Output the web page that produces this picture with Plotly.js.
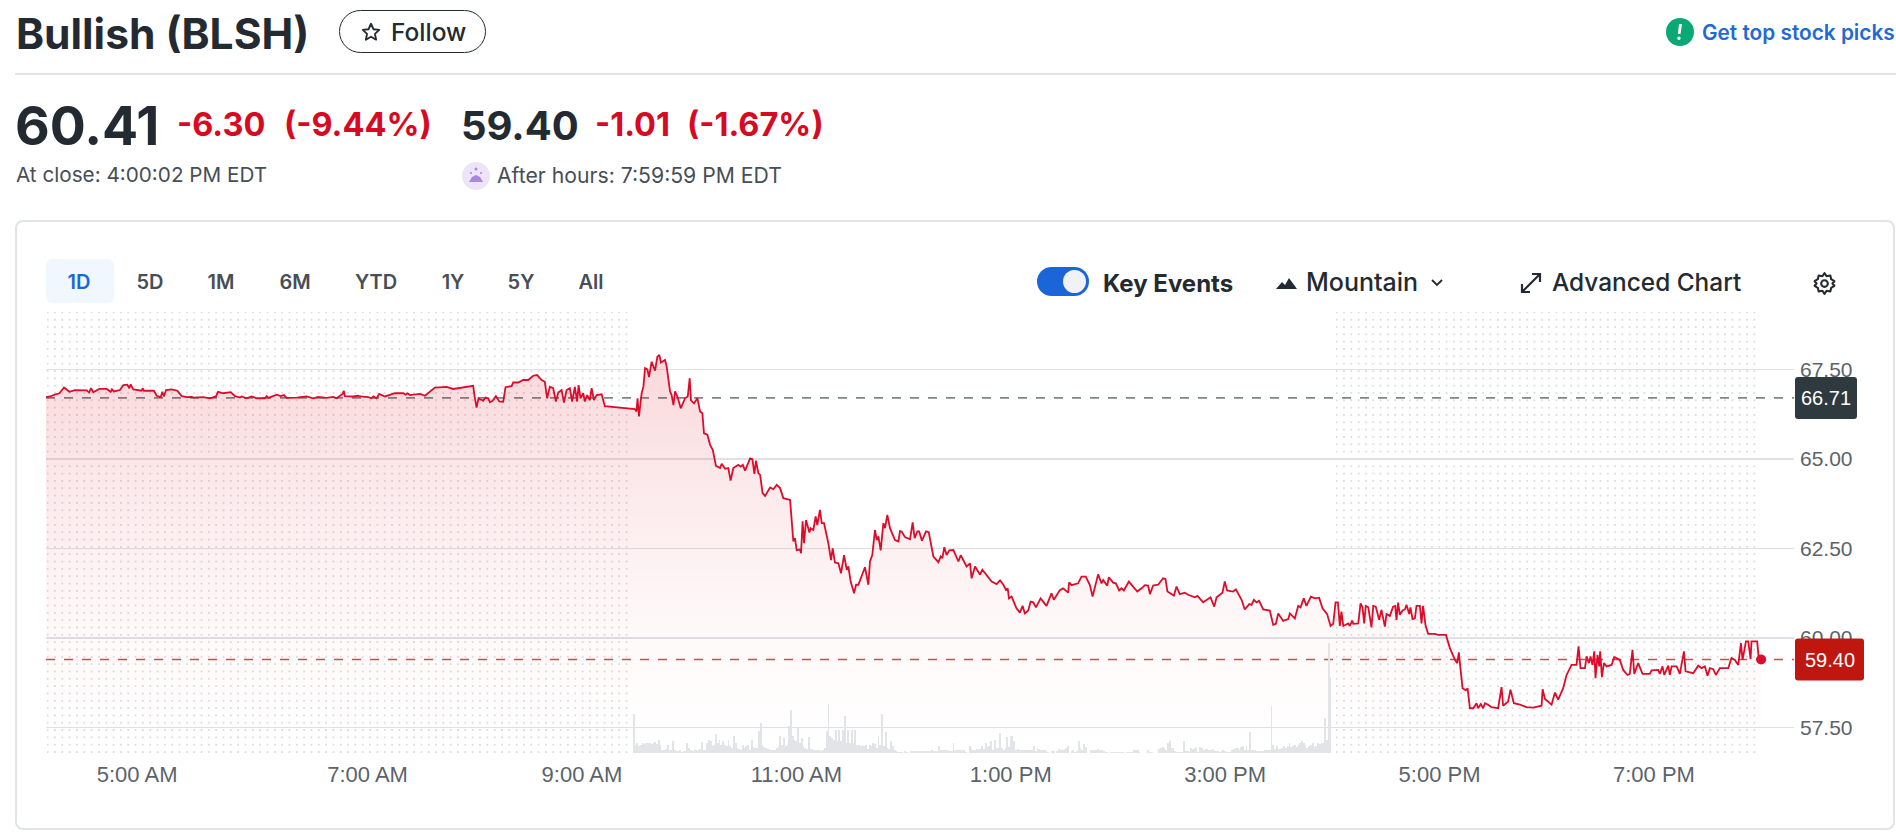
<!DOCTYPE html>
<html><head><meta charset="utf-8">
<script src="https://cdn.plot.ly/plotly-3.0.1.min.js"></script>
<style>
html,body{margin:0;padding:0;background:#fff;width:1896px;height:834px;overflow:hidden;font-family:Inter,"Noto Sans",sans-serif;color:#232a31}
.t{position:absolute;white-space:nowrap;line-height:1}
.dots{position:absolute;top:312px;height:441px;background-image:radial-gradient(circle at center,#dcdee2 0.8px,rgba(255,255,255,0) 1.1px);background-size:7.33px 7.33px;background-position:4.3px -3.3px}
.r{color:#d60a22;font-weight:700;font-size:32.5px}
.b{font-size:20px;font-weight:600;color:#464e56;transform:translateX(-50%)}
svg{position:absolute}
#chart{position:absolute;left:0;top:0;width:1896px;height:834px}
</style></head><body>
<div class="t" style="left:16px;top:13px;font-size:42.5px;font-weight:700">Bullish (BLSH)</div>
<div style="position:absolute;left:339px;top:10px;width:145px;height:41px;border:1.5px solid #232a31;border-radius:22px"></div>
<svg style="left:360px;top:21px" width="22" height="22" viewBox="0 0 24 24"><path d="M12 3l2.7 6 6.3.7-4.7 4.3 1.3 6.4L12 17.2l-5.600 3.200 1.300-6.400L3 9.700 9.300 9z" fill="none" stroke="#232a31" stroke-width="2" stroke-linejoin="round"/></svg>
<div class="t" style="left:391px;top:20px;font-size:24.5px;font-weight:500">Follow</div>
<svg style="left:1666px;top:17px" width="30" height="30"><circle cx="14" cy="15" r="14" fill="#0aa873"/><path d="M16 7l-1.500 10h-2.600L13 7zM13 19.500a1.700 1.700 0 1 1-.1 3.400 1.700 1.700 0 0 1 .1-3.400z" fill="#fff"/></svg>
<div class="t" style="left:1702px;top:23px;font-size:20.8px;font-weight:600;color:#1f6ad6">Get top stock picks</div>
<div style="position:absolute;left:15px;right:0;top:73px;height:2px;background:#e0e3e7"></div>

<div class="t" style="left:15px;top:99px;font-size:53.5px;font-weight:700">60.41</div>
<div class="t r" style="left:177px;top:109px">-6.30</div>
<div class="t r" style="left:284px;top:109px">(-9.44%)</div>
<div class="t" style="left:461px;top:106px;font-size:40px;font-weight:700">59.40</div>
<div class="t r" style="left:595px;top:109px">-1.01</div>
<div class="t r" style="left:687px;top:109px">(-1.67%)</div>
<div class="t" style="left:16px;top:165px;font-size:20.7px;color:#464e56">At close: 4:00:02 PM EDT</div>
<svg style="left:461px;top:161px" width="30" height="30"><circle cx="15" cy="15" r="14" fill="#eee4f9"/><path d="M8 21h14l-3-5-4-2-4 2z" fill="#a887dc"/><circle cx="15" cy="8" r="1.500" fill="#a887dc"/><circle cx="10" cy="12" r="1" fill="#a887dc"/><circle cx="20" cy="12" r="1" fill="#a887dc"/></svg>
<div class="t" style="left:497px;top:165px;font-size:21.2px;color:#464e56">After hours: 7:59:59 PM EDT</div>

<div style="position:absolute;left:15px;top:220px;width:1876px;height:606px;border:2px solid #e0e3e7;border-radius:8px;box-sizing:content-box"></div>
<div style="position:absolute;left:46px;top:259px;width:68px;height:44px;background:#f0f7ff;border-radius:6px"></div>
<div class="t b" style="left:79px;top:272px;color:#1868d8">1D</div>
<div class="t b" style="left:150px;top:272px">5D</div>
<div class="t b" style="left:221px;top:272px">1M</div>
<div class="t b" style="left:295px;top:272px">6M</div>
<div class="t b" style="left:376px;top:272px">YTD</div>
<div class="t b" style="left:453px;top:272px">1Y</div>
<div class="t b" style="left:521px;top:272px">5Y</div>
<div class="t b" style="left:591px;top:272px">All</div>

<div style="position:absolute;left:1037px;top:267px;width:52px;height:29px;border-radius:15px;background:#1a66d8"></div>
<div style="position:absolute;left:1063px;top:270px;width:23px;height:23px;border-radius:50%;background:#f0f2f5"></div>
<div class="t" style="left:1103px;top:272px;font-size:24px;font-weight:700">Key Events</div>
<svg style="left:1275px;top:274px" width="24" height="18"><path d="M1 15l6-7 3 3 4-7 8 11z" fill="#232a31"/></svg>
<div class="t" style="left:1306px;top:270px;font-size:25px;font-weight:500">Mountain</div>
<svg style="left:1430px;top:277px" width="14" height="12"><path d="M2 3l5 5 5-5" fill="none" stroke="#232a31" stroke-width="1.8"/></svg>
<svg style="left:1519px;top:271px" width="24" height="24"><path d="M3 21L21 3M13 3h8v8M3 13v8h8" fill="none" stroke="#232a31" stroke-width="2.2"/></svg>
<div class="t" style="left:1552px;top:270px;font-size:24.4px;font-weight:500">Advanced Chart</div>
<svg style="left:1812px;top:271px" width="25" height="25" viewBox="0 0 24 24"><path d="M12 2l2 3 3.600-.6.800 3.500 3.100 1.900L19.600 12l1.900 2.200-3.100 1.900-.8 3.500L14 19l-2 3-2-3-3.600.6-.8-3.500-3.100-1.900L4.400 12 2.500 9.800l3.100-1.900.8-3.500L10 5z" fill="none" stroke="#232a31" stroke-width="2" stroke-linejoin="round"/><circle cx="12" cy="12" r="3.200" fill="none" stroke="#232a31" stroke-width="2"/></svg>

<div class="dots" style="left:47px;width:584px"></div>
<div class="dots" style="left:1336px;width:424px"></div>
<div id="chart"></div>
<script>
// Minutes after 4:00 AM
const preMinutes = [0,2.2,5,7.5,10.1,13.1,16.2,22.8,24.1,25.2,26.5,29.8,34,36.2,36.9,38,41.4,43.3,45.5,46.6,47.4,48.9,53.5,54.1,54.8,60.4,62,64.2,65.1,66,67.2,70.3,73.5,76,78.7,81.5,82.8,88,91.8,95.1,96.3,99.2,103.4,105.8,108.6,109.5,112.3,115.1,117.9,122.6,123.5,124.6,129.1,131.3,133.2,134.7,140.3,145.9,149.6,152.4,157.1,160.8,162.7,164.5,
166,166.7,167.3,172,174.8,175.7,180.4,182.2,183.2,185,186.5,189.7,195.3,200,201.3,202.4,203.7,209.3,212.1,217.7,224.2,227.9,234.5,235.8,239.1,239.9,241,242.1,244.7,246,247.5,248.5,250,251.8,253.7,255.9,257.2,260.6,261.5,264.3,267.1,269.9,272.7,274.9,277.4,279.2,279.8,280.5,282,283.9,285.4,286.7,288.6,289.9,291.4,293.2,294.5,296,297.3,298.1,299.2,300.7,301.6,302.9,304.4,305.4,306.7,308.2,311,312.8,329.6,330.5,331.1,331.9];
const preValues = [66.73,66.75,66.80,66.84,67.00,66.88,66.93,66.92,66.86,66.98,66.87,66.96,66.96,66.88,66.95,66.89,66.93,67.07,67.08,66.98,67.09,66.95,66.91,66.98,66.91,66.91,66.77,66.73,66.88,66.75,66.93,66.95,66.91,66.76,66.73,66.74,66.72,66.73,66.70,66.75,66.88,66.84,66.87,66.76,66.72,66.75,66.70,66.75,66.70,66.70,66.76,66.71,66.80,66.76,66.79,66.71,66.72,66.75,66.70,66.74,66.71,66.74,66.70,66.76,
66.82,66.91,66.76,66.75,66.77,66.75,66.73,66.70,66.75,66.70,66.82,66.75,66.84,66.84,66.80,66.84,66.79,66.82,66.77,67.00,67.02,66.96,67.02,67.04,67.05,66.75,66.44,66.70,66.63,66.72,66.70,66.59,66.63,66.76,66.61,66.60,67.01,67.04,67.14,67.14,67.21,67.21,67.33,67.35,67.21,67.16,66.88,66.70,67.02,66.98,66.61,66.86,66.93,66.58,66.93,66.98,66.61,67.02,66.61,67.07,66.70,66.84,66.61,66.79,66.65,66.98,66.65,66.79,66.81,66.48,66.40,66.33,66.70,66.19];
const dayMinutes = [333.4,334.4,335.3,336.6,337.5,339,340.9,342.2,343.3,344.2,346.5,347.4,349.3,350.2,351.2,352.1,353.4,355.3,357.7,359.2,360.3,361,362.7,364.6,366.1,367.4,368.3,370.2,371.7,373.2,375,377.3,378.2,380.1,381.9,383.2,384.7,387.5,388.8,390,391.3,394.1,395.4,396.5,397.4,398.7,399.7,401.1,402.5,405.3,407.1,409,410.9,412.7,416.5,417.4,418.3,419.2,420.2,422,422.6,423.5,424.3,425.4,427.3,428,429.5,430.8,431.7,433.2,434.2,435.5,437.9,439.4,440.3,441.6,443.5,445,446.7,448.2,449.1,450.4,452.3,453.4,454.7,458.4,460.3,461.2,462.5,464,465,465.9,467.2,468.7,469.6,470.9,472.4,475.2,477.1,478,478.9,480.8,483.6,485.1,486.2,487.7,488.7,490.3,492.6,494.1,495.2,496.7,499.5,500.8,501.7,502.8,504.1,505.6,507.9,510.7,512,515.3,517.2,518.1,520,522.8,524.1,529.3,532.1,534,535.9,537.3,538.3,539,540.5,
543.2,545.1,546.6,547.9,549.8,551.1,552.6,554.1,556.7,560,562.8,564.1,567.5,569.3,572.1,572.7,574,577.7,579.6,582,584.3,585.8,588.9,590.8,591.7,594,594.9,597.3,598.8,600.7,602,603.3,606.1,608.5,610.8,613.2,615.1,616.9,617.9,619.7,622.5,625.3,626.6,627.7,631.3,632.8,634.6,637.4,639.3,643,644.5,647.7,651.8,653.9,655.2,658.5,659.8,661.1,664.5,666,669.2,671,673.5,674.8,676.1,677.6,679,681.3,685,686.9,688.4,689.7,692.5,695.3,696.2,699,700.9,702.2,704,705.5,708,710.2,712.6,714.5,717.1,719];
const dayValues = [66.84,67.03,67.54,67.51,67.29,67.72,67.47,67.86,67.91,67.70,67.77,67.59,66.89,66.79,66.51,66.89,66.75,66.42,66.70,66.75,67.26,66.64,66.56,66.70,66.33,66.28,65.72,65.68,65.40,65.26,64.81,64.75,64.87,64.73,64.75,64.40,64.75,64.84,64.79,64.84,64.68,65.02,65.00,64.59,64.96,64.61,64.56,64.05,63.97,64.21,64.16,64.28,64.19,63.91,63.86,63.12,62.70,62.79,62.45,62.48,62.37,63.26,62.65,63.30,62.95,63.07,63.02,63.40,63.16,63.58,63.21,63.21,62.65,62.18,62.51,62.11,62.09,61.81,62.32,61.91,62.00,61.58,61.25,61.49,61.49,61.98,61.49,62.14,62.32,63.02,62.74,62.84,62.45,63.21,63.07,63.44,63.07,62.74,62.70,62.99,62.98,62.82,62.76,63.23,62.79,62.98,62.98,62.72,62.98,62.96,62.65,62.28,62.12,62.28,62.23,62.54,62.32,62.45,62.46,62.14,62.32,62.00,62.09,61.67,62.00,61.77,61.91,61.58,61.51,61.61,61.49,61.35,61.39,61.11,61.16,
60.83,60.71,60.90,60.69,60.77,61.02,61.00,60.86,61.11,60.90,61.25,61.07,61.34,61.39,61.27,61.56,61.48,61.53,61.72,61.72,61.48,61.16,61.78,61.53,61.62,61.46,61.70,61.55,61.53,61.33,61.39,61.33,61.58,61.44,61.30,61.39,61.48,61.47,61.23,61.47,61.49,61.67,61.65,61.30,61.19,61.44,61.23,61.27,61.21,61.14,61.18,61.00,61.14,60.88,61.14,61.27,61.58,61.33,61.30,61.36,61.07,60.80,60.95,60.93,61.07,61.00,61.04,60.80,60.77,60.37,60.40,60.69,60.48,60.53,60.69,60.55,60.90,60.86,61.11,60.90,61.16,61.11,61.13,60.83,60.67,60.34];
const postMinutes = [720.5,721.8,723.1,724.2,725.1,726.1,728.9,729.8,731.1,731.7,734.5,735.8,736.9,737.8,738.7,740.1,741.9,742.9,744.3,746.2,747.5,749.4,750.3,752.2,754,755.2,755.9,756.8,757.8,759.3,760.6,761.5,763,763.7,764.9,766.2,767.1,769,769.9,770.8,772.1,773.6,777.4,779.2,783.6,785.8,788.6,789.9,790.8,791.8,792.9,794.7,795.7,797,798.9,800.7,801.6,803.1,804.4,805.4,807.2,809.1,812.8,814.7,815.6,818.4,819.7,821.6,825,828.7,832.4,837.1,837.7,839,842.7,844.6,846.4,849.2,851.1,853.9,856.7,857.8,858.9,861.4,862.3,863.6,864.5,865.6,866.6,867.3,868.4,869.4,869.9,870.9,872,873.5,876.3,877.8,880.9,882.8,885.2,886.5,888,889,891.2,893.6,897.7,898.7,902.4,903.3,904.8,905.8,908,908.9,909.9,912.7,914.5,916.8,917.7,922,924.8,926.7,928.5,930,931.3,933.2,934.7,936.9,941.6,943.4,945.3,947.2,948.7,949.6,951.5,952.8,954.1,954.6,957.8,958.7,960];
const postValues = [60.40,61.00,61.00,60.34,60.74,60.34,60.41,60.34,60.49,60.40,60.41,60.97,60.86,60.41,60.90,60.86,60.30,60.90,60.88,60.51,60.79,60.32,60.67,60.62,60.88,60.90,60.51,60.99,60.65,60.77,60.80,60.93,60.67,60.86,60.53,60.55,60.90,60.90,60.41,60.90,60.37,60.12,60.12,60.09,60.09,59.72,59.39,59.30,59.60,59.11,58.60,58.54,58.60,58.04,58.04,58.18,58.04,58.16,58.04,58.18,58.14,58.07,58.04,58.63,58.11,58.23,58.56,58.18,58.14,58.07,58.06,58.11,58.57,58.30,58.14,58.48,58.28,58.60,58.97,59.25,59.25,59.77,59.16,59.16,59.49,59.30,59.49,59.25,59.63,58.88,59.53,59.21,59.63,58.91,59.30,59.21,59.25,59.47,59.39,59.11,58.97,59.00,59.67,59.00,59.30,59.00,59.00,59.10,59.11,59.00,59.21,58.97,59.23,58.97,59.21,59.21,59.00,59.63,59.07,59.02,59.23,59.16,59.21,58.95,59.16,59.13,58.97,59.16,59.16,59.44,59.39,59.25,59.86,59.39,59.91,59.91,59.41,59.91,59.91,59.41,59.40];
// Per-minute volume from 9:29, relative units
const volumeFirstMinute = 329;
const volumes = [118,25,30,22,25,30,26,30,30,30,28,30,32,28,40,25,10,10,12,25,8,8,35,8,5,5,8,3,5,5,30,15,8,6,12,10,10,12,32,8,10,30,38,35,22,25,58,30,38,25,35,25,20,38,20,15,50,30,15,12,10,25,15,20,25,10,40,18,15,15,65,90,25,18,15,12,12,8,8,8,15,22,50,25,45,20,25,80,128,50,40,35,78,30,45,20,15,12,48,12,12,10,10,8,8,6,8,15,65,148,50,45,40,68,35,68,35,70,112,30,70,30,70,30,70,25,25,22,25,20,25,12,25,20,30,28,15,50,25,118,20,62,15,12,35,20,8,5,3,3,2,0,6,2,0,7,5,5,5,5,6,5,7,5,6,6,5,8,5,5,5,22,8,10,8,8,10,6,5,30,10,8,8,8,5,10,3,0,20,12,10,10,12,10,12,20,12,30,18,
20,35,10,38,12,15,60,15,10,15,48,18,50,52,35,10,12,10,8,10,8,8,8,8,10,22,6,15,12,8,8,8,6,3,0,5,6,0,5,12,10,12,10,15,20,0,5,8,3,5,35,15,10,28,18,0,0,10,8,10,8,12,10,10,5,4,4,0,3,3,3,3,3,3,3,3,0,4,4,4,4,8,8,8,4,0,0,0,0,8,3,3,0,0,0,12,15,18,15,10,30,35,15,15,5,3,3,3,3,35,5,5,3,15,12,15,18,3,18,15,10,12,12,10,10,12,5,5,5,3,5,8,5,3,3,3,8,12,15,15,8,18,20,8,20,10,62,10,10,8,5,6,6,6,8,8,10,10,140,25,12,20,12,12,15,20,15,20,30,18,20,25,18,25,30,35,30,25,15,20,25,30,18,22,30,28,30,30,105,40,330,228];
const yTicks = [57.5,60,62.5,65,67.5];
const xTickMinutes = [51,180,300,420,540,660,780,900];
const xTickLabels = ['5:00 AM','7:00 AM','9:00 AM','11:00 AM','1:00 PM','3:00 PM','5:00 PM','7:00 PM'];
const previousClose = 66.71;
const lastPrice = 59.40;

const toX = m => new Date(Date.UTC(2025,8,15,4,0,0) + m*60000).toISOString().slice(0,19).replace('T',' ');
const priceX = preMinutes.concat(dayMinutes, postMinutes).map(toX);
const priceY = preValues.concat(dayValues, postValues);
const volX = volumes.map((_,i)=>toX(volumeFirstMinute+i));

const badge = (val, fill, w) => ({type:'path', layer:'above', xref:'paper', yref:'y', xsizemode:'pixel', ysizemode:'pixel', xanchor:1, yanchor:val,
  path:`M 1 -18 L 1 18 Q 1 21 4 21 L ${w-3} 21 Q ${w} 21 ${w} 18 L ${w} -18 Q ${w} -21 ${w-3} -21 L 4 -21 Q 1 -21 1 -18 Z`, fillcolor:fill, line:{width:0}});
const badgeText = (val, shift) => ({xref:'paper', yref:'y', x:1, xshift:shift, xanchor:'center', yanchor:'middle', y:val, text:val.toFixed(2), showarrow:false, font:{family:'"Liberation Sans"', size:20, color:'#fff'}});
const dash = (val,c) => ({type:'line', layer:'below', xref:'paper', yref:'y', x0:0, x1:1, y0:val, y1:val, line:{color:c, width:1.6, dash:'9px,9px'}});

Plotly.newPlot('chart', [
  {type:'bar', x:volX, y:volumes, yaxis:'y2', width:60000, marker:{color:'#e2e4e8', line:{width:0}}, hoverinfo:'skip'},
  {type:'scatter', mode:'lines', x:priceX, y:priceY, line:{color:'#dc0d2b', width:1.8}, fill:'tozeroy',
   fillgradient:{type:'vertical', start:68.2, stop:56.9, colorscale:[[0,'rgba(220,0,20,0.16)'],[0.35,'rgba(220,0,20,0.085)'],[0.7,'rgba(220,0,20,0.025)'],[1,'rgba(220,0,20,0)']]}},
  {type:'scatter', mode:'markers', x:[toX(960)], y:[lastPrice], marker:{color:'#dc0d2b', size:10}}
], {
  width:1896, height:834, autosize:false, showlegend:false, bargap:0,
  margin:{l:46, r:102, t:312, b:81, pad:0},
  paper_bgcolor:'rgba(0,0,0,0)', plot_bgcolor:'rgba(0,0,0,0)',
  xaxis:{type:'date', range:[toX(0), toX(978.4)], tickmode:'array', tickvals:xTickMinutes.map(toX), ticktext:xTickLabels, showgrid:false, zeroline:false, showline:false, ticks:'', ticklabelstandoff:6, tickfont:{family:'"Liberation Sans"', size:22, color:'#5b636a'}},
  yaxis:{side:'right', range:[56.79,69.11], tickvals:yTicks, ticktext:yTicks.map(v=>v.toFixed(2)), gridcolor:'#dfe1e6', gridwidth:1.5, zeroline:false, showline:false, ticks:'', ticklabelstandoff:5, tickfont:{family:'"Liberation Sans"', size:21, color:'#5b636a'}},
  yaxis2:{overlaying:'y', range:[0,1323], visible:false, fixedrange:true},
  shapes:[dash(previousClose,'#7f8589'), dash(lastPrice,'#d9474f'), badge(previousClose,'#2f3a40',63), badge(lastPrice,'#bf1610',70)],
  annotations:[badgeText(previousClose,32), badgeText(lastPrice,36)]
}, {displayModeBar:false, staticPlot:true});
</script>
</body></html>
